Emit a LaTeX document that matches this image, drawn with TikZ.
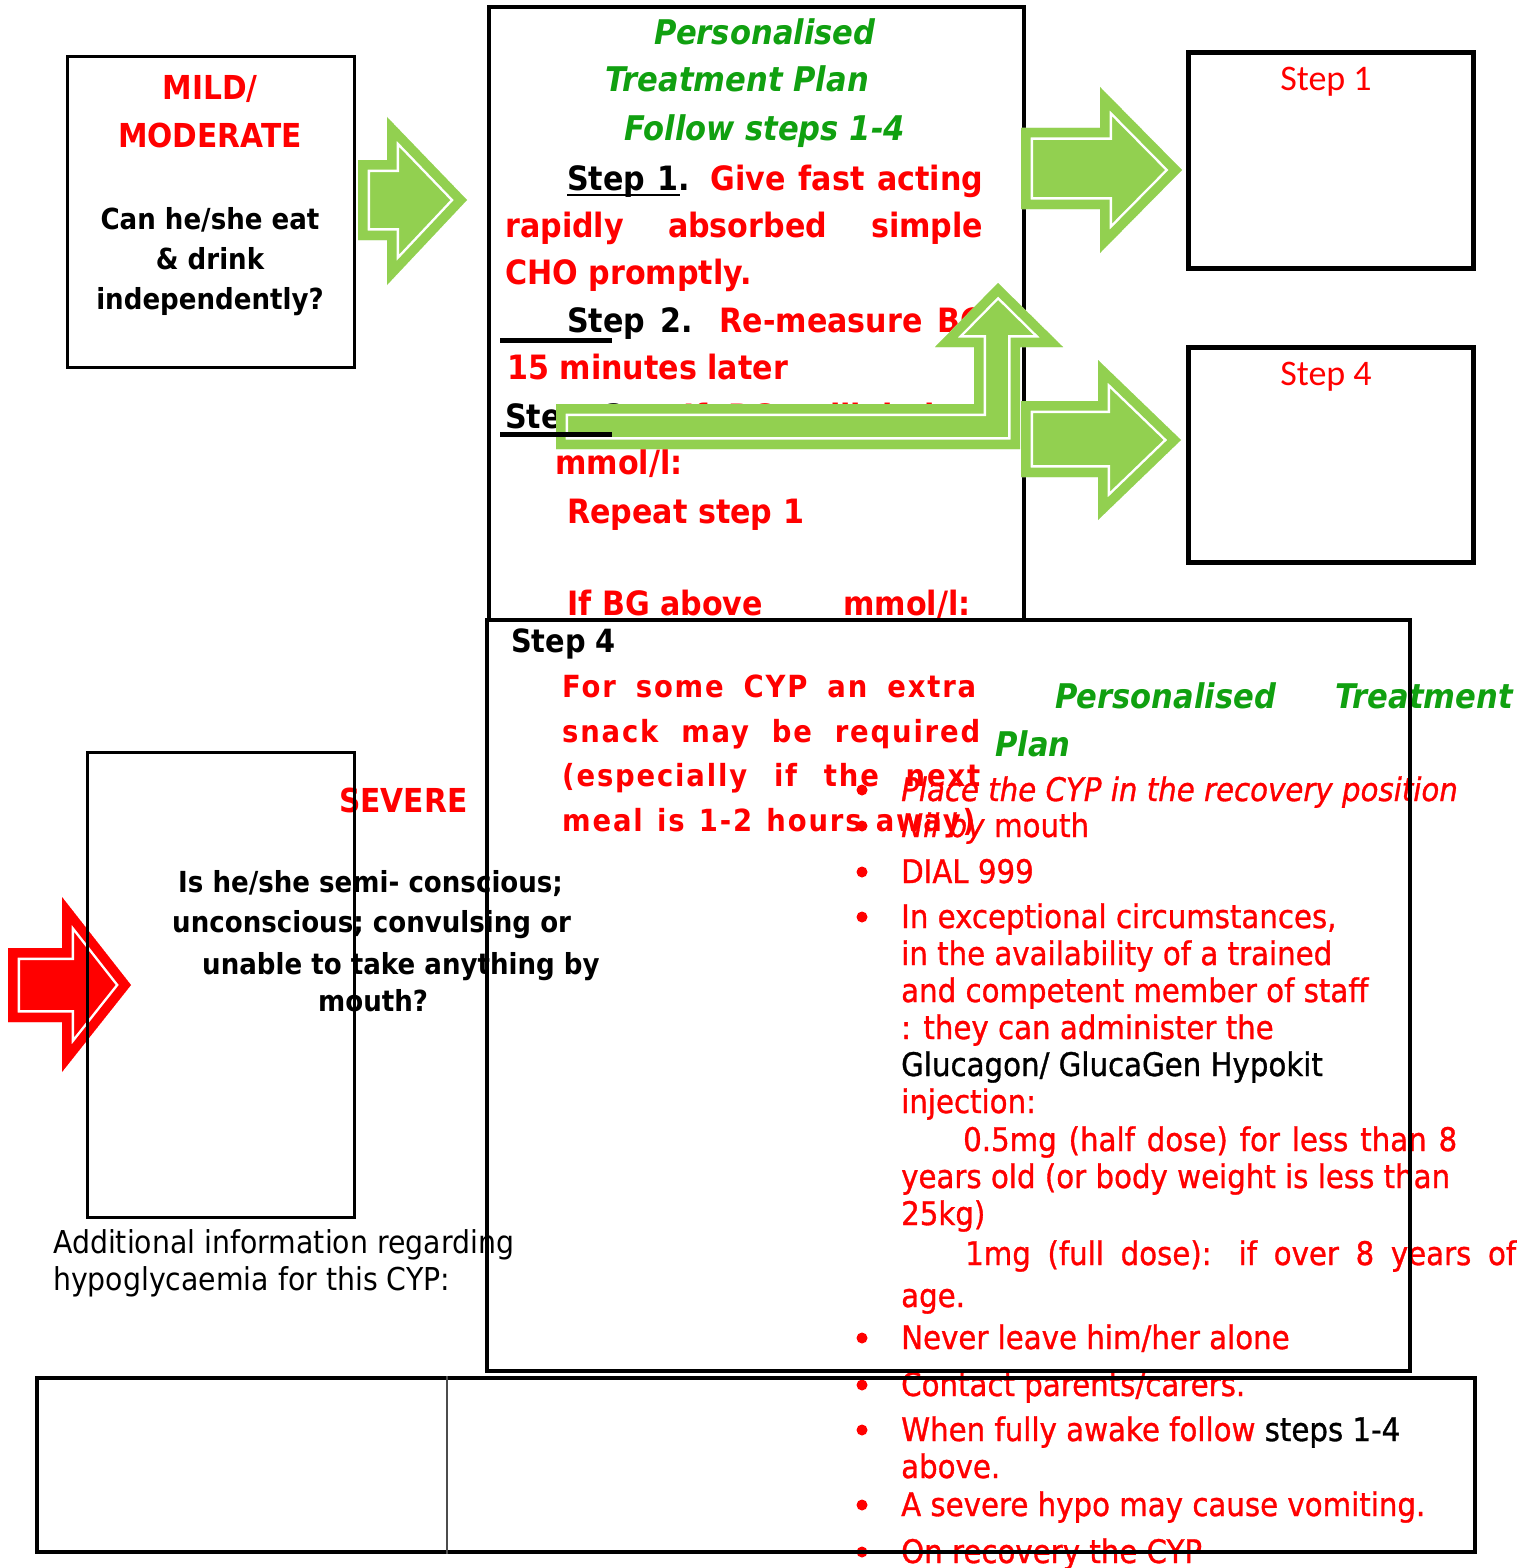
\documentclass[tikz,border=0pt]{standalone}
\usepackage{fontspec}
\setmainfont{DejaVu Sans}[FakeStretch=0.9]
\newfontfamily\spacedfont{DejaVu Sans}[FakeStretch=0.9,LetterSpace=6]
\newfontfamily\bulfont{DejaVu Sans}[FakeStretch=0.9,FakeBold=1]
\newfontfamily\calfont{Carlito}
\definecolor{tred}{RGB}{255,0,0}
\definecolor{tgreen}{RGB}{16,160,16}
\definecolor{agreen}{RGB}{146,208,80}
\newcommand\blockarrow[2]{%
  \begin{scope}
    \clip #2;
    \fill[#1] #2;
    \draw[white,line width=24pt] #2;
    \draw[#1,line width=19pt] #2;
  \end{scope}}
\newcommand\fmain{\fontsize{33.5}{40}\selectfont\bfseries}
\newcommand\ftitle{\fontsize{34}{40}\selectfont\bfseries\itshape}
\newcommand\fbul{\bulfont\fontsize{32.5}{38}\selectfont}
\newcommand\fq{\fontsize{29}{35}\selectfont\bfseries}
\newcommand\fbig{\fontsize{33}{38}\selectfont\bfseries}
\newcommand\fsnack{\spacedfont\fontsize{30.5}{36}\selectfont\bfseries}
\tikzset{
  txt/.style={inner sep=0pt, anchor=base west},
  ctxt/.style={inner sep=0pt, anchor=base},
  boxs/.style={draw=black, inner sep=0pt},
  dotb/.style={circle, fill=tred, inner sep=0pt, minimum size=11pt},
}
\begin{document}
\begin{tikzpicture}[x=1pt,y=-1pt]
\useasboundingbox (0,0) rectangle (1522,1568);
\fill[white] (0,0) rectangle (1522,1568);

% ---------- main box (top centre) ----------
\node[boxs,line width=4pt,minimum width=535pt,minimum height=613pt] (mainbox) at (756.5,313.5) {};

\node[ctxt,text=tgreen,font=\ftitle] (tt1) at (765,45) {Personalised};
\node[ctxt,text=tgreen,font=\ftitle] (tt2) at (737,92) {Treatment Plan};
\node[ctxt,text=tgreen,font=\ftitle] (tt3) at (765,140) {Follow steps 1-4};

\node[txt,font=\fmain] (l1) at (567,190) {\makebox[416pt][s]{Step 1. \textcolor{tred}{Give fast acting}}};
\node[txt,font=\fmain,text=tred] (l2) at (505,237) {\makebox[478pt][s]{rapidly absorbed simple}};
\node[txt,font=\fmain,text=tred] (l3) at (505,284) {CHO promptly.};
\node[txt,font=\fmain] (l4) at (567,332) {\makebox[418pt][s]{Step 2. \textcolor{tred}{Re-measure BG}}};
\node[txt,font=\fmain,text=tred] (l5) at (507,379) {15 minutes later};
\node[txt,font=\fmain] (l6) at (505,428) {\makebox[478pt][s]{Step 3. \textcolor{tred}{If BG still below}}};
\node[txt,font=\fmain,text=tred] (l7) at (555,474) {mmol/l:};
\node[txt,font=\fmain,text=tred] (l8) at (567,523) {Repeat step 1};
\node[txt,font=\fmain,text=tred] (l9a) at (567,615) {If BG above};
\node[txt,font=\fmain,text=tred] (l9b) at (843,615) {mmol/l:};

% ---------- green block arrows ----------
\blockarrow{agreen}{(358,160)--(387,160)--(387,117)--(467,200)--(387,285)--(387,240)--(358,240)--cycle}
\blockarrow{agreen}{(1021,128)--(1100,128)--(1100,87)--(1182,170)--(1100,253)--(1100,209)--(1021,209)--cycle}
\blockarrow{agreen}{(1021,401)--(1098,401)--(1098,360)--(1181,440)--(1098,520)--(1098,477)--(1021,477)--cycle}
\blockarrow{agreen}{(556,404)--(974,404)--(974,347)--(935,347)--(998,283)--(1063,347)--(1020,347)--(1020,449)--(556,449)--cycle}

% underlines
\coordinate (u1a) at (567,195); \coordinate (u1b) at (680,195);
\coordinate (u2a) at (500,340); \coordinate (u2b) at (612,340);
\coordinate (u3a) at (500,434); \coordinate (u3b) at (612,434);
\draw[line width=2.5pt] (u1a) -- (u1b);
\draw[line width=5pt] (u2a) -- (u2b);
\draw[line width=5pt] (u3a) -- (u3b);

% ---------- mild / moderate ----------
\node[ctxt,font=\fbig,text=tred] (mild1) at (210,100) {MILD/};
\node[ctxt,font=\fbig,text=tred] (mild2) at (210,147) {MODERATE};
\node[ctxt,font=\fq] (mq1) at (210,229) {Can he/she eat};
\node[ctxt,font=\fq] (mq2) at (210,269) {\& drink};
\node[ctxt,font=\fq] (mq3) at (210,309) {independently?};
\node[boxs,line width=3pt,minimum width=287pt,minimum height=310pt] (mildbox) at (210.5,212) {};

% ---------- step boxes on the right ----------
\node[boxs,line width=5pt,minimum width=285pt,minimum height=215pt] (s1box) at (1330.5,160.5) {};
\node[ctxt,font=\calfont\fontsize{36}{40}\selectfont,text=tred] (s1lab) at (1326,91) {Step 1};
\node[boxs,line width=5pt,minimum width=285pt,minimum height=215pt] (s4box) at (1330.5,454.5) {};
\node[ctxt,font=\calfont\fontsize{36}{40}\selectfont,text=tred] (s4lab) at (1326,385) {Step 4};

% ---------- step 4 / severe panel text ----------
\node[txt,font=\fontsize{32}{38}\selectfont\bfseries] (st4) at (511,652) {Step 4};
\node[txt,font=\fsnack,text=tred] (sn1) at (562,697) {\makebox[414pt][s]{For some CYP an extra}};
\node[txt,font=\fsnack,text=tred] (sn2) at (562,742) {\makebox[418pt][s]{snack may be required}};
\node[txt,font=\fsnack,text=tred] (sn3) at (562,786) {\makebox[418pt][s]{(especially if the next}};
\node[txt,font=\fsnack,text=tred] (sn4) at (562,831) {\makebox[413pt][s]{meal is 1-2 hours away)}};

\node[txt,font=\ftitle,text=tgreen] (pt1) at (1055,708) {Personalised};
\node[txt,font=\ftitle,text=tgreen] (pt2) at (1335,708) {Treatment};
\node[txt,font=\ftitle,text=tgreen] (pt3) at (995,756) {Plan};

\foreach \n/\yy in {1/790,2/826,3/872,4/917,5/1338,6/1385,7/1430,8/1505,9/1552}
  \node[dotb] (bd\n) at (862,\yy) {};

\node[txt,font=\fbul\itshape,text=tred] (bl1) at (901,801) {Place the CYP in the recovery position};
\node[txt,font=\fbul,text=tred] (bl2) at (901,837) {\textit{Nil by} mouth};
\node[txt,font=\fbul,text=tred] (bl3) at (901,883) {DIAL 999};
\node[txt,font=\fbul,text=tred] (bl4) at (901,928) {In exceptional circumstances,};
\node[txt,font=\fbul,text=tred] (bl5) at (901,965) {in the availability of a trained};
\node[txt,font=\fbul,text=tred] (bl6) at (901,1002) {and competent member of staff};
\node[txt,font=\fbul,text=tred] (bl7) at (901,1039) {: they can administer the};
\node[txt,font=\fbul] (bl8) at (901,1076) {Glucagon/ GlucaGen Hypokit};
\node[txt,font=\fbul,text=tred] (bl9) at (901,1113) {injection:};
\node[txt,font=\fbul,text=tred] (bl10) at (963,1151) {\makebox[494pt][s]{0.5mg (half dose) for less than 8}};
\node[txt,font=\fbul,text=tred] (bl11) at (901,1188) {years old (or body weight is less than};
\node[txt,font=\fbul,text=tred] (bl12) at (901,1225) {25kg)};
\node[txt,font=\fbul,text=tred] (bl13) at (965,1265) {\makebox[551pt][s]{1mg (full dose): if over 8 years of}};
\node[txt,font=\fbul,text=tred] (bl14) at (901,1307) {age.};
\node[txt,font=\fbul,text=tred] (bl15) at (901,1349) {Never leave him/her alone};
\node[txt,font=\fbul,text=tred] (bl16) at (901,1396) {Contact parents/carers.};
\node[txt,font=\fbul,text=tred] (bl17) at (901,1441) {When fully awake follow \textcolor{black}{steps 1-4}};
\node[txt,font=\fbul,text=tred] (bl18) at (901,1478) {above.};
\node[txt,font=\fbul,text=tred] (bl19) at (901,1516) {A severe hypo may cause vomiting.};
\node[txt,font=\fbul,text=tred] (bl20) at (901,1563) {On recovery the CYP};

% ---------- severe ----------
\node[txt,font=\fbig,text=tred] (sev) at (339,812) {SEVERE};
\node[txt,font=\fq] (sq1) at (178,892) {Is he/she semi- conscious;};
\node[txt,font=\fq] (sq2) at (172,932) {unconscious; convulsing or};
\node[txt,font=\fq] (sq3) at (202,974) {unable to take anything by};
\node[txt,font=\fq] (sq4) at (318,1011) {mouth?};

\node[txt,font=\fontsize{31.5}{37}\selectfont] (ad1) at (53,1253) {Additional information regarding};
\node[txt,font=\fontsize{31.5}{37}\selectfont] (ad2) at (53,1290) {hypoglycaemia for this CYP:};

\blockarrow{tred}{(8,948)--(62,948)--(62,897)--(131,985)--(62,1072)--(62,1022)--(8,1022)--cycle}

\node[boxs,line width=3pt,minimum width=267pt,minimum height=465pt] (sevbox) at (220.5,984.5) {};
\node[boxs,line width=4pt,minimum width=923pt,minimum height=751pt] (step4box) at (948.5,995.5) {};

% ---------- bottom table ----------
\node[boxs,line width=4pt,minimum width=1438pt,minimum height=174pt] (tablebox) at (756,1465) {};
\draw[line width=1.5pt,black!70] (tablebox.north west -| 447,0) -- (tablebox.south west -| 447,0);
\end{tikzpicture}
\end{document}
